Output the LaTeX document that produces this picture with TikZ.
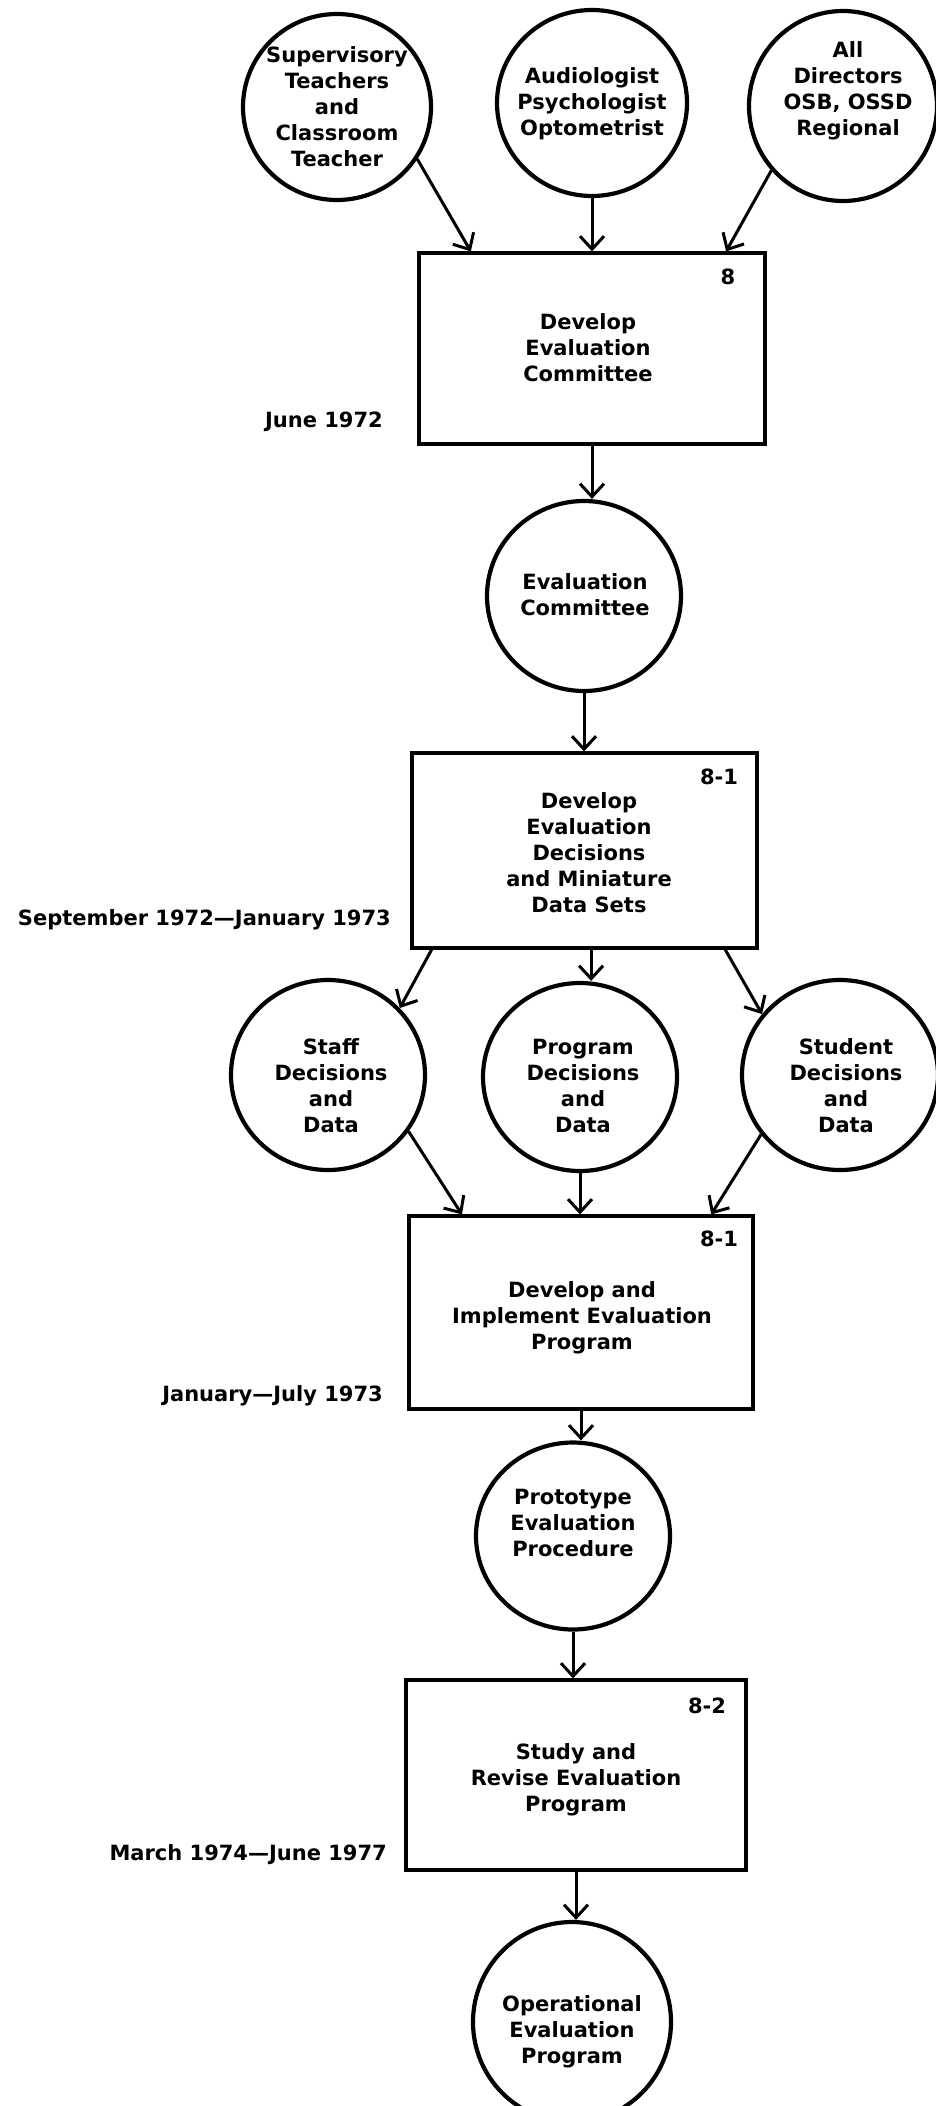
\documentclass[tikz,border=0pt]{standalone}
\usepackage{fontspec}
\setmainfont{DejaVu Sans}
\usetikzlibrary{arrows.meta,shapes.geometric,calc}
\begin{document}
\begin{tikzpicture}[x=1pt,y=-1pt,
  every node/.style={font=\bfseries\fontsize{21}{26}\selectfont},
  circ/.style={draw, ellipse, line width=4.2pt, inner sep=0pt},
  box/.style={draw, rectangle, line width=3.2pt, inner sep=0pt},
  txt/.style={align=center, inner sep=0pt},
  lab/.style={inner sep=0pt, anchor=east},
  num/.style={inner sep=0pt},
  arr/.style={line width=3pt, -{Straight Barb[length=13pt,width=24pt,line width=3pt]}}
]
\useasboundingbox (0,0) rectangle (936,2106);

% top circles
\node[circ, minimum width=188pt, minimum height=186pt] (c1) at (337,107) {};
\node[txt] (c1t) at (337,107) {Supervisory\\Teachers\\and\\Classroom\\Teacher};
\node[circ, minimum width=190pt, minimum height=186pt] (c2) at (592,103) {};
\node[txt] (c2t) at (592,104) {Audiologist\\Psychologist\\Optometrist};
\node[circ, minimum width=188pt, minimum height=190pt] (c3) at (843,106) {};
\node[txt] (c3t) at (848,91) {All\\Directors\\OSB, OSSD\\Regional};

% box 1
\node[box, minimum width=346pt, minimum height=191pt] (b1) at (592,348.5) {};
\node[txt] (b1t) at (588,348) {Develop\\Evaluation\\Committee};
\node[num] (n1) at (728,277) {8};
\node[lab] (d1) at (383,422) {June 1972};

% evaluation committee
\node[circ, minimum width=194pt, minimum height=190pt] (ec) at (584,596) {};
\node[txt] (ect) at (585,595) {Evaluation\\Committee};

% box 2
\node[box, minimum width=345pt, minimum height=195pt] (b2) at (584.5,850.5) {};
\node[txt] (b2t) at (589,853) {Develop\\Evaluation\\Decisions\\and Miniature\\Data Sets};
\node[num] (n2) at (719,777) {8-1};
\node[lab] (d2) at (391,920) {September 1972---January 1973};

% three circles
\node[circ, minimum width=194pt, minimum height=190pt] (staff) at (328,1075) {};
\node[txt] (stafft) at (331,1086) {Staff\\Decisions\\and\\Data};
\node[circ, minimum width=194pt, minimum height=188pt] (prog) at (580,1077) {};
\node[txt] (progt) at (583,1086) {Program\\Decisions\\and\\Data};
\node[circ, minimum width=196pt, minimum height=190pt] (stud) at (840,1075) {};
\node[txt] (studt) at (846,1086) {Student\\Decisions\\and\\Data};

% box 3
\node[box, minimum width=344pt, minimum height=193pt] (b3) at (581,1312.5) {};
\node[txt] (b3t) at (582,1318) {Develop and\\Implement Evaluation\\Program};
\node[num] (n3) at (719,1239) {8-1};
\node[lab] (d3) at (383,1396) {January---July 1973};

% prototype
\node[circ, minimum width=194pt, minimum height=187pt] (proto) at (573,1536) {};
\node[txt] (protot) at (573,1523) {Prototype\\Evaluation\\Procedure};

% box 4
\node[box, minimum width=340pt, minimum height=190pt] (b4) at (576,1775) {};
\node[txt] (b4t) at (576,1780) {Study and\\Revise Evaluation\\Program};
\node[num] (n4) at (707,1706) {8-2};
\node[lab] (d4) at (387,1855) {March 1974---June 1977};

% operational
\node[circ, minimum width=198pt, minimum height=200pt] (op) at (572,2022) {};
\node[txt] (opt) at (572,2032) {Operational\\Evaluation\\Program};

% connector anchor points
\coordinate (b1in1) at ($(b1.north west)!0.153!(b1.north east)$);
\coordinate (b1in3) at ($(b1.north west)!0.884!(b1.north east)$);
\coordinate (b2out1) at ($(b2.south west)!0.061!(b2.south east)$);
\coordinate (b2out2) at ($(b2.south west)!0.519!(b2.south east)$);
\coordinate (b2out3) at ($(b2.south west)!0.904!(b2.south east)$);
\coordinate (b3in1) at ($(b3.north west)!0.157!(b3.north east)$);
\coordinate (b3in3) at ($(b3.north west)!0.875!(b3.north east)$);

% arrows
\draw[arr] (c1.-33) -- (b1in1);
\draw[arr] (c2.south) -- (c2.south |- b1.north);
\draw[arr] (c3.222) -- (b1in3);
\draw[arr] (b1.south) -- (b1.south |- ec.north);
\draw[arr] (ec.south) -- (ec.south |- b2.north);
\draw[arr] (b2out1) -- (staff.43);
\draw[arr] (b2out2) -- (b2out2 |- prog.north);
\draw[arr] (b2out3) -- (stud.142);
\draw[arr] (staff.-35) -- (b3in1);
\draw[arr] (prog.south) -- (prog.south |- b3.north);
\draw[arr] (stud.-143) -- (b3in3);
\draw[arr] (b3.south) -- (b3.south |- proto.north);
\draw[arr] (proto.south) -- (proto.south |- b4.north);
\draw[arr] (b4.south) -- (b4.south |- op.north);
\end{tikzpicture}
\end{document}
